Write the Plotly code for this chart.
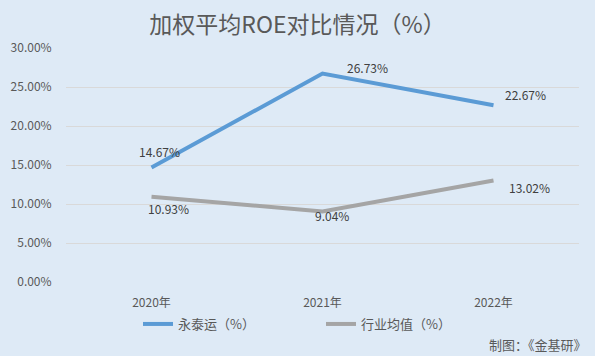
import plotly.graph_objects as go

categories = ["2020年", "2021年", "2022年"]
yongtaiyun = [14.67, 26.73, 22.67]
industry = [10.93, 9.04, 13.02]
series_names = ["永泰运（%）", "行业均值（%）"]
y_ticks = [0, 5, 10, 15, 20, 25, 30]
y_tick_labels = ["0.00%", "5.00%", "10.00%", "15.00%", "20.00%", "25.00%", "30.00%"]

BG = "#DEEAF6"
BLUE = "#5B9BD5"
GRAY = "#A5A5A5"
FONT = "Noto Sans CJK SC"

fig = go.Figure()
fig.add_trace(go.Scatter(x=categories, y=yongtaiyun, mode="lines", name=series_names[0],
                         line=dict(color=BLUE, width=4)))
fig.add_trace(go.Scatter(x=categories, y=industry, mode="lines", name=series_names[1],
                         line=dict(color=GRAY, width=4)))

# data labels
blue_shift = [(8, 16), (45, 6), (32, 11)]
gray_shift = [(17, -12), (9, -4), (36, -7)]
for c, v, (dx, dy) in zip(categories, yongtaiyun, blue_shift):
    fig.add_annotation(x=c, y=v, text=f"{v:.2f}%", showarrow=False, xshift=dx, yshift=dy,
                       font=dict(size=12, color="#404040", family=FONT))
for c, v, (dx, dy) in zip(categories, industry, gray_shift):
    fig.add_annotation(x=c, y=v, text=f"{v:.2f}%", showarrow=False, xshift=dx, yshift=dy,
                       font=dict(size=12, color="#404040", family=FONT))

fig.add_annotation(text="制图：《金基研》", xref="paper", yref="paper", x=1.0195, y=-0.265,
                   xanchor="right", yanchor="middle", showarrow=False,
                   font=dict(size=13, color="#595959", family=FONT))

fig.update_layout(
    width=595, height=356,
    paper_bgcolor=BG, plot_bgcolor=BG,
    margin=dict(l=66, r=16, t=48, b=74, autoexpand=False),
    title=dict(text="加权平均ROE对比情况（%）", x=0.5, xanchor="center", y=0.93, yanchor="middle",
               font=dict(size=23, color="#595959", family=FONT)),
    font=dict(family=FONT, color="#595959", size=12),
    showlegend=True,
    legend=dict(orientation="h", xref="container", yref="container", x=138/595, y=1-324/356,
                xanchor="left", yanchor="middle", bgcolor="rgba(0,0,0,0)",
                font=dict(size=13, color="#595959", family=FONT),
                entrywidth=138, entrywidthmode="pixels", tracegroupgap=0),
    xaxis=dict(type="category", range=[-0.5, 2.5], showgrid=False, showline=False, zeroline=False,
               ticks="outside", ticklen=10, tickcolor="rgba(0,0,0,0)",
               tickfont=dict(size=12, color="#595959", family=FONT)),
    yaxis=dict(range=[0, 30], tickvals=y_ticks, ticktext=y_tick_labels, showgrid=True,
               gridcolor="#D9D9D9", gridwidth=1, zeroline=False, showline=False,
               ticks="outside", ticklen=11, tickcolor="rgba(0,0,0,0)",
               tickfont=dict(size=12, color="#595959", family=FONT)),
)

fig.write_html("out.html", config={"displayModeBar": False},
               post_script="document.body.style.margin='0';document.body.style.overflow='hidden';")
